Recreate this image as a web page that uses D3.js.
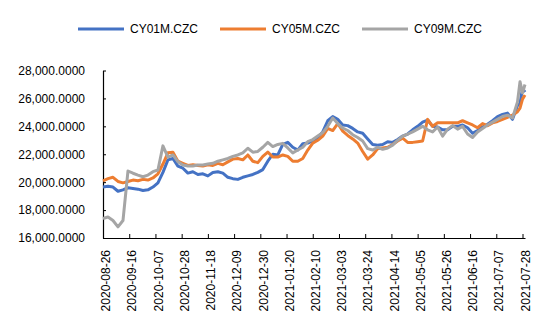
<!DOCTYPE html>
<html>
<head>
<meta charset="utf-8">
<script src="https://cdn.jsdelivr.net/npm/d3@7"></script>
<style>
  body { margin: 0; background: #fff; }
  svg text { font-family: "Liberation Sans", Arial, sans-serif; fill: #000; }
</style>
</head>
<body>
<svg id="chart" width="550" height="329"></svg>
<script>
'use strict';
(function() {

    // data
    var dates = [
        '2020-08-26','2020-08-30','2020-09-03','2020-09-07','2020-09-11','2020-09-15','2020-09-19','2020-09-23',
        '2020-09-27','2020-10-01','2020-10-05','2020-10-09','2020-10-13','2020-10-17','2020-10-21','2020-10-25',
        '2020-10-29','2020-11-02','2020-11-06','2020-11-10','2020-11-14','2020-11-18','2020-11-22','2020-11-26',
        '2020-11-30','2020-12-04','2020-12-08','2020-12-12','2020-12-16','2020-12-20','2020-12-24','2020-12-28',
        '2021-01-01','2021-01-05','2021-01-09','2021-01-13','2021-01-17','2021-01-21','2021-01-25','2021-01-29',
        '2021-02-02','2021-02-06','2021-02-10','2021-02-14','2021-02-18','2021-02-22','2021-02-26','2021-03-02',
        '2021-03-06','2021-03-10','2021-03-14','2021-03-18','2021-03-22','2021-03-26','2021-03-30','2021-04-03',
        '2021-04-07','2021-04-11','2021-04-15','2021-04-19','2021-04-23','2021-04-27','2021-05-01','2021-05-05',
        '2021-05-09','2021-05-13','2021-05-17','2021-05-21','2021-05-25','2021-05-29','2021-06-02','2021-06-06',
        '2021-06-10','2021-06-14','2021-06-18','2021-06-22','2021-06-26','2021-06-30','2021-07-04','2021-07-08',
        '2021-07-12','2021-07-16','2021-07-20','2021-07-24','2021-07-26','2021-07-28','2021-07-30'
    ];

    var cy01 = [
        19650,19700,19650,19350,19450,19600,19550,19500,19400,19450,19650,19950,20700,21600,21700,21150,
        21000,20650,20750,20550,20600,20450,20700,20750,20650,20350,20250,20200,20350,20450,20550,20700,
        20900,21500,22000,21950,22700,22850,22500,22300,22750,22800,22950,23200,23600,24400,24700,24500,
        24100,24050,23850,23600,23500,23100,22700,22650,22700,22900,22850,23050,23300,23450,23750,24000,
        24300,24450,24000,23950,23750,23750,24000,24000,24100,23900,23500,23700,23950,24150,24400,24700,
        24850,24950,24500,25500,25650,26700,26450
    ];

    var cy05 = [
        20100,20250,20350,20050,19950,20050,20150,20100,20200,20150,20300,20600,21300,22100,22150,21500,
        21350,21200,21250,21200,21150,21250,21200,21350,21250,21450,21650,21700,21600,21950,21500,21400,
        21850,22150,21800,21800,21950,21850,21500,21500,21700,22300,22800,23000,23300,23850,23700,24200,
        23650,23350,23100,22800,22200,21650,21950,22400,22450,22500,22700,22950,23150,22850,22850,22900,
        22950,24500,24000,24250,24250,24250,24250,24250,24400,24250,24100,23900,24200,24050,24250,24350,
        24500,24650,24800,25050,25300,25950,26250
    ];

    var cy09 = [
        17400,17500,17250,16800,17250,20800,20640,20510,20390,20510,20750,20870,22600,21800,21950,21470,
        21230,21160,21160,21230,21230,21300,21350,21500,21600,21700,21850,21950,22100,22430,22150,22200,
        22500,22850,22550,22700,22780,22450,22100,22300,22500,22900,23050,23300,23550,24000,24600,24200,
        23880,23700,23400,23200,22950,22400,22300,22500,22350,22450,22650,23000,23300,23450,23600,23800,
        24000,23750,23600,23950,23300,23800,24050,23800,24000,23450,23200,23600,23850,24100,24300,24500,
        24700,24800,24600,25750,27200,26400,27000
    ];

    var seriesNames = ['CY01M.CZC', 'CY05M.CZC', 'CY09M.CZC'];
    var seriesColors = ['#4472C4', '#ED7D31', '#A5A5A5'];
    var yTicks = [16000, 18000, 20000, 22000, 24000, 26000, 28000];
    var xTickLabels = [
        '2020-08-26','2020-09-16','2020-10-07','2020-10-28','2020-11-18','2020-12-09','2020-12-30',
        '2021-01-20','2021-02-10','2021-03-03','2021-03-24','2021-04-14','2021-05-05','2021-05-26',
        '2021-06-16','2021-07-07','2021-07-28'
    ];

    var parseDate = d3.timeParse('%Y-%m-%d');
    var margin = {top: 70.5, right: 25, bottom: 91, left: 103},
        width = 550 - margin.left - margin.right,
        height = 329 - margin.top - margin.bottom;

    var svg = d3.select('#chart');
    var g = svg.append('g')
        .attr('transform', 'translate(' + margin.left + ',' + margin.top + ')');

    var x = d3.scaleTime()
        .domain([parseDate('2020-08-26'), parseDate('2021-07-30')])
        .range([0, width]);

    var y = d3.scaleLinear()
        .domain([16000, 28000])
        .range([height, 0]);

    // y axis
    var yAxis = g.append('g')
        .call(d3.axisLeft(y).tickValues(yTicks).tickFormat(d3.format(',.4f')).tickSizeInner(-3).tickSizeOuter(0).tickPadding(18));
    yAxis.select('.domain').attr('stroke', '#000').attr('stroke-width', 1.2);
    yAxis.selectAll('.tick line').attr('stroke', '#000');
    yAxis.selectAll('text').style('font-size', '12px');

    // x axis
    var xAxis = g.append('g')
        .attr('transform', 'translate(0,' + height + ')')
        .call(d3.axisBottom(x).tickValues(xTickLabels.map(parseDate)).tickFormat(d3.timeFormat('%Y-%m-%d')).tickSizeInner(-4).tickSizeOuter(0));
    xAxis.select('.domain').attr('stroke', '#000').attr('stroke-width', 1.2);
    xAxis.selectAll('.tick line').attr('stroke', '#000');
    xAxis.selectAll('text')
        .style('font-size', '12px')
        .attr('text-anchor', 'end')
        .attr('transform', 'rotate(-90)')
        .attr('x', -12)
        .attr('y', 2.5)
        .attr('dy', '0.35em');

    // lines
    var allSeries = [cy01, cy05, cy09];
    var line = d3.line()
        .x(function(d, i) { return x(parseDate(dates[i])); })
        .y(function(d) { return y(d); });

    allSeries.forEach(function(vals, k) {
        g.append('path')
            .datum(vals)
            .attr('fill', 'none')
            .attr('stroke', seriesColors[k])
            .attr('stroke-width', 3)
            .attr('stroke-linejoin', 'round')
            .attr('d', line);
    });

    // legend
    var legendX = [78, 220, 362];
    var legend = svg.append('g');
    seriesNames.forEach(function(name, k) {
        legend.append('line')
            .attr('x1', legendX[k]).attr('x2', legendX[k] + 46)
            .attr('y1', 29).attr('y2', 29)
            .attr('stroke', seriesColors[k])
            .attr('stroke-width', 3);
        legend.append('text')
            .attr('x', legendX[k] + 52)
            .attr('y', 33)
            .style('font-size', '12px')
            .text(name);
    });

})();
</script>
</body>
</html>
